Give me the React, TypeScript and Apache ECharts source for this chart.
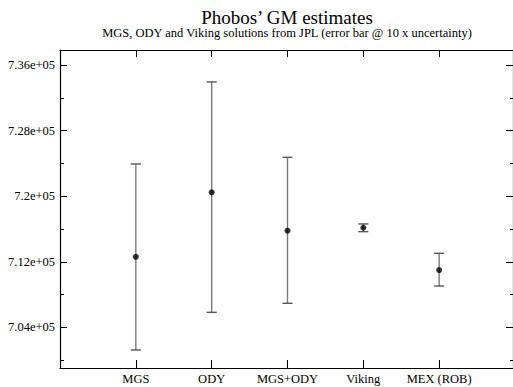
import React, { useEffect, useRef } from "react";
import * as echarts from "echarts";

const categories = ["MGS", "ODY", "MGS+ODY", "Viking", "MEX (ROB)"];
const gmCenter = [712600, 720470, 715790, 716150, 710990];
const gmLow = [701240, 705830, 706930, 715670, 709040];
const gmHigh = [723930, 733930, 724740, 716610, 713030];
const yMajorTicks = [704000, 712000, 720000, 728000, 736000];
const yMinorTicks = [700000, 708000, 716000, 724000, 732000];
const xPositions = [1, 2, 3, 4, 5];

const FONT = "Liberation Serif";

export default function App() {
  const ref = useRef<HTMLDivElement>(null);
  useEffect(() => {
    if (!ref.current) return;
    const chart = echarts.init(ref.current, undefined, { renderer: "svg" });
    const yFmt = (v: number) => parseFloat((v / 1e5).toFixed(4)) + "e+05";
    const yMin = 699040;
    const yMax = 737830;
    const baseY = {
      type: "value",
      min: yMin,
      max: yMax,
      splitLine: { show: false },
    };
    const labelStyle = {
      color: "#000",
      fontFamily: FONT,
      fontSize: 12.5,
    };
    const option: any = {
      animation: false,
      backgroundColor: "#fff",
      textStyle: { fontFamily: FONT },
      grid: { left: 60, top: 50, width: 454, height: 318 },
      graphic: [
        {
          type: "text",
          x: 287,
          y: 17,
          style: {
            text: "Phobos\u2019 GM estimates",
            font: `19px ${FONT}`,
            fill: "#000",
            textAlign: "center",
            textVerticalAlign: "middle",
          },
        },
        {
          type: "text",
          x: 287,
          y: 33,
          style: {
            text: "MGS, ODY and Viking solutions from JPL (error bar @ 10 x uncertainty)",
            font: `12.5px ${FONT}`,
            fill: "#000",
            textAlign: "center",
            textVerticalAlign: "middle",
          },
        },
      ],
      xAxis: [
        {
          type: "value",
          position: "bottom",
          min: 0,
          max: 454 / 76,
          splitLine: { show: false },
          axisLine: { show: true, lineStyle: { color: "#000", width: 1.2 } },
          axisTick: {
            show: true,
            inside: true,
            length: 8,
            customValues: xPositions,
            lineStyle: { color: "#000", width: 1 },
          },
          axisLabel: {
            show: true,
            customValues: xPositions,
            formatter: (v: number) => categories[Math.round(v) - 1] ?? "",
            margin: 4,
            ...labelStyle,
          },
        },
        {
          type: "value",
          position: "top",
          min: 0,
          max: 454 / 76,
          splitLine: { show: false },
          axisLine: { show: true, lineStyle: { color: "#000", width: 1.2 } },
          axisTick: {
            show: true,
            inside: true,
            length: 7,
            customValues: xPositions,
            lineStyle: { color: "#000", width: 1 },
          },
          axisLabel: { show: false },
        },
      ],
      yAxis: [
        {
          ...baseY,
          position: "left",
          axisLine: { show: true, lineStyle: { color: "#000", width: 1.2 } },
          axisTick: {
            show: true,
            inside: true,
            length: 7,
            customValues: yMajorTicks,
            lineStyle: { color: "#000", width: 1 },
          },
          axisLabel: {
            show: true,
            customValues: yMajorTicks,
            formatter: yFmt,
            margin: 5,
            ...labelStyle,
          },
        },
        {
          ...baseY,
          position: "left",
          axisLine: { show: false },
          axisTick: {
            show: true,
            inside: true,
            length: 4,
            customValues: yMinorTicks,
            lineStyle: { color: "#000", width: 1 },
          },
          axisLabel: { show: false },
        },
        {
          ...baseY,
          position: "right",
          axisLine: { show: true, lineStyle: { color: "#000", width: 1.2 } },
          axisTick: {
            show: true,
            inside: true,
            length: 7,
            customValues: yMajorTicks,
            lineStyle: { color: "#000", width: 1 },
          },
          axisLabel: { show: false },
        },
        {
          ...baseY,
          position: "right",
          axisLine: { show: false },
          axisTick: {
            show: true,
            inside: true,
            length: 3,
            customValues: yMinorTicks,
            lineStyle: { color: "#000", width: 1 },
          },
          axisLabel: { show: false },
        },
      ],
      series: [
        {
          type: "custom",
          xAxisIndex: 0,
          yAxisIndex: 0,
          data: xPositions.map((x, i) => [x, gmLow[i], gmHigh[i]]),
          encode: { x: 0, y: [1, 2] },
          renderItem: (_params: any, api: any) => {
            const x = api.value(0);
            const lo = api.coord([x, api.value(1)]);
            const hi = api.coord([x, api.value(2)]);
            const half = 5;
            return {
              type: "group",
              children: [
                {
                  type: "line",
                  shape: { x1: lo[0], y1: lo[1], x2: hi[0], y2: hi[1] },
                  style: { stroke: "#7a7a7a", lineWidth: 1.4 },
                },
                {
                  type: "line",
                  shape: { x1: hi[0] - half, y1: hi[1], x2: hi[0] + half, y2: hi[1] },
                  style: { stroke: "#555", lineWidth: 1.4 },
                },
                {
                  type: "line",
                  shape: { x1: lo[0] - half, y1: lo[1], x2: lo[0] + half, y2: lo[1] },
                  style: { stroke: "#555", lineWidth: 1.4 },
                },
              ],
            };
          },
          z: 2,
        },
        {
          type: "scatter",
          xAxisIndex: 0,
          yAxisIndex: 0,
          data: xPositions.map((x, i) => [x, gmCenter[i]]),
          symbol: "circle",
          symbolSize: 6,
          itemStyle: { color: "#000" },
          z: 3,
        },
      ],
    };
    chart.setOption(option);
    return () => chart.dispose();
  }, []);
  return (
    <div
      ref={ref}
      style={{ position: "fixed", left: 0, top: 0, width: 513, height: 387 }}
    />
  );
}
